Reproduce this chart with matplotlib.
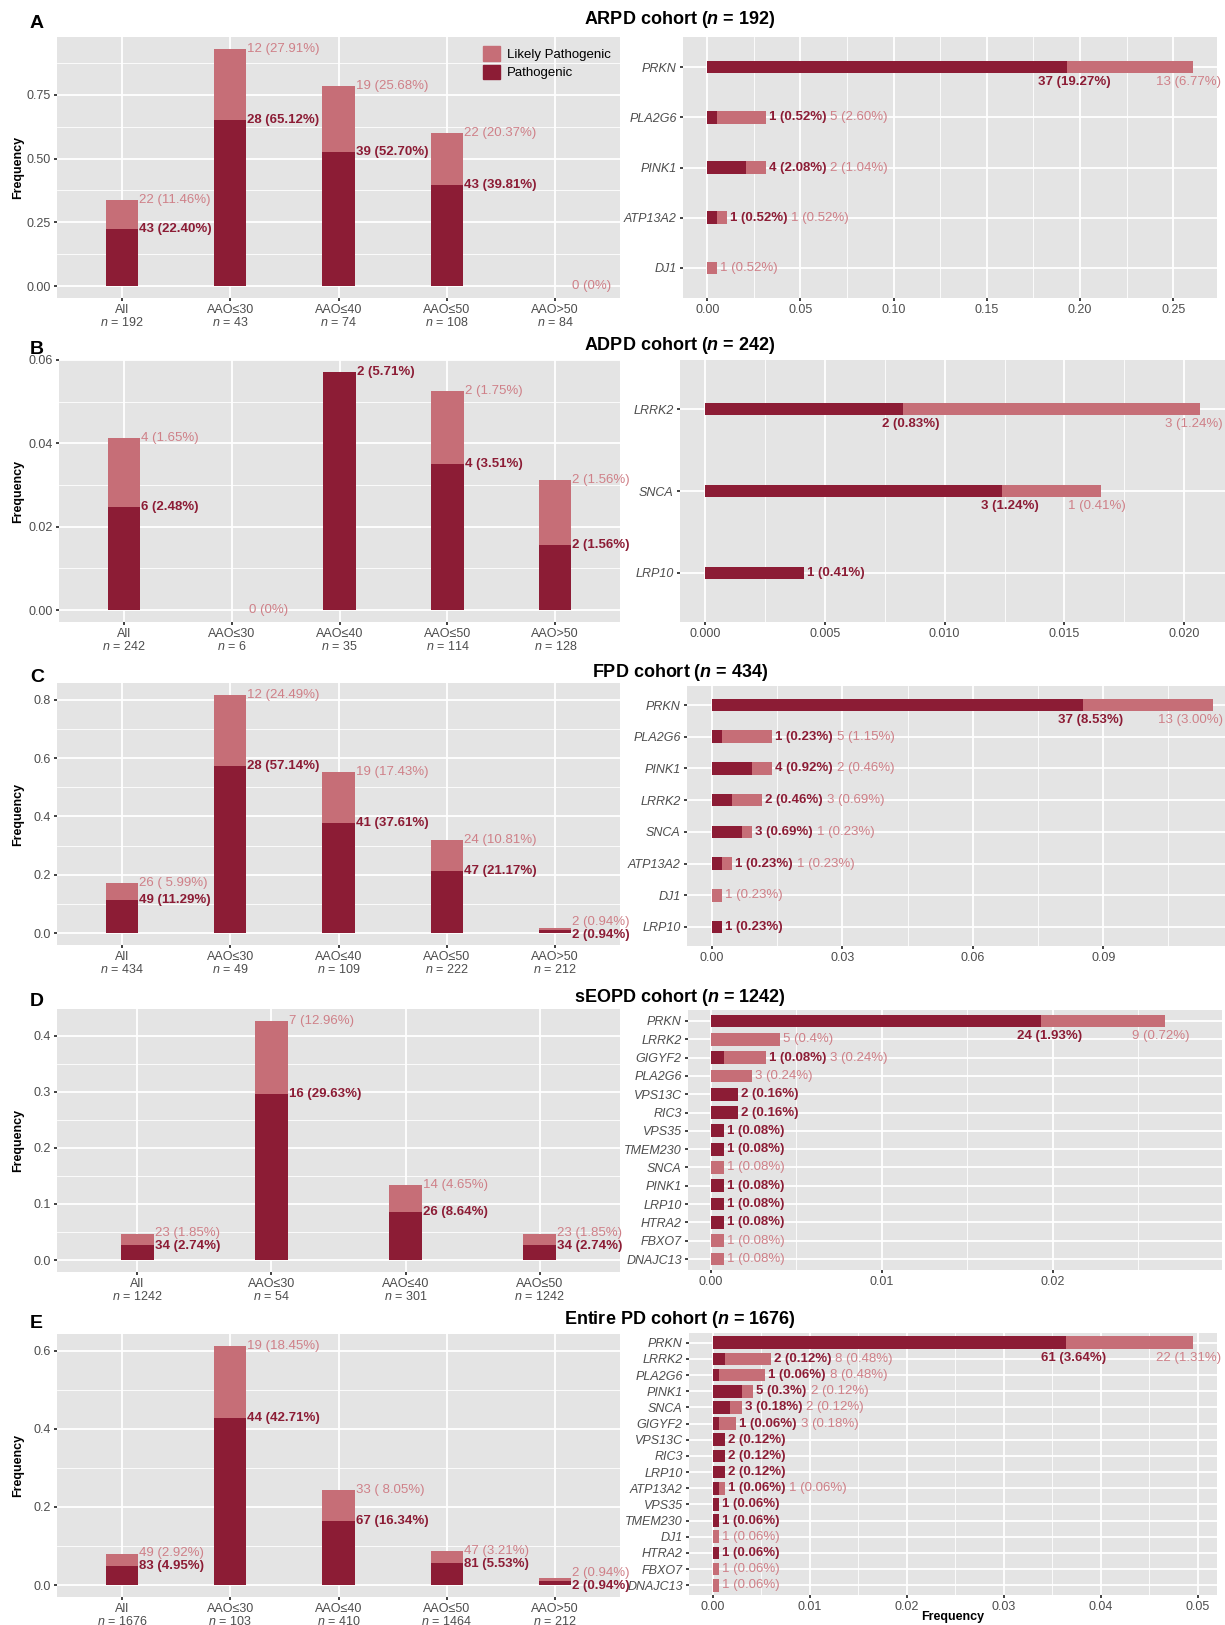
import numpy as np
import matplotlib
matplotlib.use("Agg")
import matplotlib.pyplot as plt
from matplotlib.patches import Patch

plt.rcParams["font.family"] = ["Liberation Sans", "DejaVu Sans"]
plt.rcParams["mathtext.fontset"] = "custom"
plt.rcParams["mathtext.rm"] = "Liberation Sans"
plt.rcParams["mathtext.it"] = "Liberation Sans:italic"
plt.rcParams["mathtext.bf"] = "Liberation Sans:bold"
plt.rcParams["mathtext.bfit"] = "Liberation Sans:italic:bold"

P_COL = "#8C1C35"
LP_COL = "#C66E77"
LP_TXT = "#CF8088"
BG = "#E4E4E4"
TICK_TXT = "#4D4D4D"
W, H = 1225, 1625
LAB_FS = 9.5

# ---------------- data ----------------
AAO5 = ["All", "AAO≤30", "AAO≤40", "AAO≤50", "AAO>50"]
AAO4 = ["All", "AAO≤30", "AAO≤40", "AAO≤50"]

# A: ARPD cohort
arpd_n = [192, 43, 74, 108, 84]
arpd_p = [43, 28, 39, 43, 0]
arpd_lp = [22, 12, 19, 22, 0]
arpd_p_lab = ["43 (22.40%)", "28 (65.12%)", "39 (52.70%)", "43 (39.81%)", ""]
arpd_lp_lab = ["22 (11.46%)", "12 (27.91%)", "19 (25.68%)", "22 (20.37%)", "0 (0%)"]
arpd_genes = ["PRKN", "PLA2G6", "PINK1", "ATP13A2", "DJ1"]
arpd_gene_p = [37, 1, 4, 1, 0]
arpd_gene_lp = [13, 5, 2, 1, 1]
arpd_gene_p_lab = ["37 (19.27%)", "1 (0.52%)", "4 (2.08%)", "1 (0.52%)", ""]
arpd_gene_lp_lab = ["13 (6.77%)", "5 (2.60%)", "2 (1.04%)", "1 (0.52%)", "1 (0.52%)"]

# B: ADPD cohort
adpd_n = [242, 6, 35, 114, 128]
adpd_p = [6, 0, 2, 4, 2]
adpd_lp = [4, 0, 0, 2, 2]
adpd_p_lab = ["6 (2.48%)", "", "2 (5.71%)", "4 (3.51%)", "2 (1.56%)"]
adpd_lp_lab = ["4 (1.65%)", "0 (0%)", "", "2 (1.75%)", "2 (1.56%)"]
adpd_genes = ["LRRK2", "SNCA", "LRP10"]
adpd_gene_p = [2, 3, 1]
adpd_gene_lp = [3, 1, 0]
adpd_gene_p_lab = ["2 (0.83%)", "3 (1.24%)", "1 (0.41%)"]
adpd_gene_lp_lab = ["3 (1.24%)", "1 (0.41%)", ""]

# C: FPD cohort
fpd_n = [434, 49, 109, 222, 212]
fpd_p = [49, 28, 41, 47, 2]
fpd_lp = [26, 12, 19, 24, 2]
fpd_p_lab = ["49 (11.29%)", "28 (57.14%)", "41 (37.61%)", "47 (21.17%)", "2 (0.94%)"]
fpd_lp_lab = ["26 ( 5.99%)", "12 (24.49%)", "19 (17.43%)", "24 (10.81%)", "2 (0.94%)"]
fpd_genes = ["PRKN", "PLA2G6", "PINK1", "LRRK2", "SNCA", "ATP13A2", "DJ1", "LRP10"]
fpd_gene_p = [37, 1, 4, 2, 3, 1, 0, 1]
fpd_gene_lp = [13, 5, 2, 3, 1, 1, 1, 0]
fpd_gene_p_lab = ["37 (8.53%)", "1 (0.23%)", "4 (0.92%)", "2 (0.46%)", "3 (0.69%)",
                  "1 (0.23%)", "", "1 (0.23%)"]
fpd_gene_lp_lab = ["13 (3.00%)", "5 (1.15%)", "2 (0.46%)", "3 (0.69%)", "1 (0.23%)",
                   "1 (0.23%)", "1 (0.23%)", ""]

# D: sEOPD cohort
seopd_n = [1242, 54, 301, 1242]
seopd_p = [34, 16, 26, 34]
seopd_lp = [23, 7, 14, 23]
seopd_p_lab = ["34 (2.74%)", "16 (29.63%)", "26 (8.64%)", "34 (2.74%)"]
seopd_lp_lab = ["23 (1.85%)", "7 (12.96%)", "14 (4.65%)", "23 (1.85%)"]
seopd_genes = ["PRKN", "LRRK2", "GIGYF2", "PLA2G6", "VPS13C", "RIC3", "VPS35", "TMEM230",
               "SNCA", "PINK1", "LRP10", "HTRA2", "FBXO7", "DNAJC13"]
seopd_gene_p = [24, 0, 1, 0, 2, 2, 1, 1, 0, 1, 1, 1, 0, 0]
seopd_gene_lp = [9, 5, 3, 3, 0, 0, 0, 0, 1, 0, 0, 0, 1, 1]
seopd_gene_p_lab = ["24 (1.93%)", "", "1 (0.08%)", "", "2 (0.16%)", "2 (0.16%)", "1 (0.08%)",
                    "1 (0.08%)", "", "1 (0.08%)", "1 (0.08%)", "1 (0.08%)", "", ""]
seopd_gene_lp_lab = ["9 (0.72%)", "5 (0.4%)", "3 (0.24%)", "3 (0.24%)", "", "", "", "",
                     "1 (0.08%)", "", "", "", "1 (0.08%)", "1 (0.08%)"]

# E: entire PD cohort
all_n = [1676, 103, 410, 1464, 212]
all_p = [83, 44, 67, 81, 2]
all_lp = [49, 19, 33, 47, 2]
all_p_lab = ["83 (4.95%)", "44 (42.71%)", "67 (16.34%)", "81 (5.53%)", "2 (0.94%)"]
all_lp_lab = ["49 (2.92%)", "19 (18.45%)", "33 ( 8.05%)", "47 (3.21%)", "2 (0.94%)"]
all_genes = ["PRKN", "LRRK2", "PLA2G6", "PINK1", "SNCA", "GIGYF2", "VPS13C", "RIC3", "LRP10",
             "ATP13A2", "VPS35", "TMEM230", "DJ1", "HTRA2", "FBXO7", "DNAJC13"]
all_gene_p = [61, 2, 1, 5, 3, 1, 2, 2, 2, 1, 1, 1, 0, 1, 0, 0]
all_gene_lp = [22, 8, 8, 2, 2, 3, 0, 0, 0, 1, 0, 0, 1, 0, 1, 1]
all_gene_p_lab = ["61 (3.64%)", "2 (0.12%)", "1 (0.06%)", "5 (0.3%)", "3 (0.18%)", "1 (0.06%)",
                  "2 (0.12%)", "2 (0.12%)", "2 (0.12%)", "1 (0.06%)", "1 (0.06%)", "1 (0.06%)",
                  "", "1 (0.06%)", "", ""]
all_gene_lp_lab = ["22 (1.31%)", "8 (0.48%)", "8 (0.48%)", "2 (0.12%)", "2 (0.12%)", "3 (0.18%)",
                   "", "", "", "1 (0.06%)", "", "", "1 (0.06%)", "", "1 (0.06%)", "1 (0.06%)"]


def px_axes(fig, l, t, r, b):
    return fig.add_axes([l / W, 1 - b / H, (r - l) / W, (b - t) / H])


def style(ax):
    ax.set_facecolor(BG)
    for s in ax.spines.values():
        s.set_visible(False)
    ax.tick_params(which="major", length=2.5, width=1.3, color="#333333",
                   labelcolor=TICK_TXT, labelsize=9, pad=2)
    ax.tick_params(which="minor", length=0)
    ax.set_axisbelow(True)


def draw_groups(ax, groups, group_n, p, lp, p_lab, lp_lab, ystep, fmt, width=0.3):
    style(ax)
    x = np.arange(len(groups))
    fp = np.array(p) / np.array(group_n)
    flp = np.array(lp) / np.array(group_n)
    ax.bar(x, fp, width, color=P_COL, zorder=2, edgecolor="none")
    ax.bar(x, flp, width, bottom=fp, color=LP_COL, zorder=2, edgecolor="none")
    top = (fp + flp).max()
    ax.set_ylim(-0.05 * top, 1.05 * top)
    ax.set_xlim(-0.6, len(groups) - 0.4)
    yt = np.arange(0, 1.05 * top + 1e-9, ystep)
    ax.set_yticks(yt)
    ax.set_yticklabels([fmt % v for v in yt])
    ax.set_yticks(np.arange(ystep / 2, 1.05 * top, ystep), minor=True)
    ax.set_xticks(x)
    ax.set_xticklabels([f"{g}\n$\\it{{n}}$ = {n}" for g, n in zip(groups, group_n)],
                       linespacing=1.0)
    ax.tick_params(axis="x", pad=1.5)
    ax.grid(True, which="major", color="white", lw=1.3)
    ax.grid(True, which="minor", axis="y", color="white", lw=0.6)
    ax.grid(False, which="minor", axis="x")
    ax_h = ax.get_position().height * H
    ppu = ax_h / (1.1 * top)
    gap = 13
    for i in range(len(x)):
        yp, yl = fp[i], fp[i] + flp[i]
        if p_lab[i] and lp_lab[i] and (yl - yp) * ppu < gap:
            mid = (yp + yl) / 2
            yp, yl = mid - gap / 2 / ppu, mid + gap / 2 / ppu
        xr = x[i] + width / 2
        if p_lab[i]:
            ax.annotate(p_lab[i], (xr, yp), xytext=(1, 0), textcoords="offset pixels",
                        va="center", ha="left", fontsize=LAB_FS, fontweight="bold", color=P_COL)
        if lp_lab[i]:
            ax.annotate(lp_lab[i], (xr, yl), xytext=(1, 0), textcoords="offset pixels",
                        va="center", ha="left", fontsize=LAB_FS, color=LP_TXT)


def draw_genes(ax, genes, n, p, lp, p_lab, lp_lab, xstep, fmt, xmax=None):
    style(ax)
    y = np.arange(1, len(genes) + 1)
    fp = np.array(p) / n
    flp = np.array(lp) / n
    tot = fp + flp
    hi = tot.max()
    ax.set_ylim(len(genes) + 0.6, 0.4)
    ax.set_xlim(-0.05 * hi, xmax if xmax else 1.05 * hi)
    x_hi = ax.get_xlim()[1]
    ax_h = ax.get_position().height * H
    bh = 12.7 / (ax_h / (len(genes) + 0.2))
    ax.barh(y, fp, bh, color=P_COL, zorder=2)
    ax.barh(y, flp, bh, left=fp, color=LP_COL, zorder=2)
    xt = np.arange(0, x_hi + 1e-9, xstep)
    ax.set_xticks(xt)
    ax.set_xticklabels([fmt % v for v in xt])
    ax.set_xticks(np.arange(xstep / 2, x_hi, xstep), minor=True)
    ax.set_yticks(y)
    ax.set_yticklabels(genes, style="italic")
    ax.grid(True, which="major", color="white", lw=1.3)
    ax.grid(True, which="minor", axis="x", color="white", lw=0.6)
    renderer = ax.figure.canvas.get_renderer()
    for i in range(len(genes)):
        if tot[i] > 0.5 * hi:
            if p_lab[i]:
                ax.annotate(p_lab[i], (fp[i], y[i]), xytext=(8, -15), textcoords="offset pixels",
                            va="center", ha="center", fontsize=LAB_FS, fontweight="bold",
                            color=P_COL)
            if lp_lab[i]:
                t = ax.annotate(lp_lab[i], (tot[i], y[i]), xytext=(-4, -15),
                                textcoords="offset pixels", va="center", ha="center",
                                fontsize=LAB_FS, color=LP_TXT)
                over = t.get_window_extent(renderer).x1 - (W - 2)
                if over > 0:
                    t.set_position((-4 - over, -15))
        else:
            first = None
            if p_lab[i]:
                first = ax.annotate(p_lab[i], (tot[i], y[i]), xytext=(3, 0),
                                    textcoords="offset pixels", va="center", ha="left",
                                    fontsize=LAB_FS, fontweight="bold", color=P_COL)
            if lp_lab[i]:
                if first is None:
                    ax.annotate(lp_lab[i], (tot[i], y[i]), xytext=(3, 0),
                                textcoords="offset pixels", va="center", ha="left",
                                fontsize=LAB_FS, color=LP_TXT)
                else:
                    ax.annotate(lp_lab[i], (1, 0.5), xycoords=first, xytext=(4, 0),
                                textcoords="offset pixels", va="center", ha="left",
                                fontsize=LAB_FS, color=LP_TXT)


fig = plt.figure(figsize=(12.25, 16.25), dpi=100)

rows = [
    ("A", "ARPD cohort", 192, 20, (57, 37, 620, 298), (683, 37, 1217, 298),
     (AAO5, arpd_n, arpd_p, arpd_lp, arpd_p_lab, arpd_lp_lab, 0.25, "%.2f"),
     (arpd_genes, 192, arpd_gene_p, arpd_gene_lp, arpd_gene_p_lab, arpd_gene_lp_lab, 0.05, "%.2f", None)),
    ("B", "ADPD cohort", 242, 345, (59, 360, 620, 622), (680, 360, 1225, 622),
     (AAO5, adpd_n, adpd_p, adpd_lp, adpd_p_lab, adpd_lp_lab, 0.02, "%.2f"),
     (adpd_genes, 242, adpd_gene_p, adpd_gene_lp, adpd_gene_p_lab, adpd_gene_lp_lab, 0.005, "%.3f", None)),
    ("C", "FPD cohort", 434, 673, (57, 683, 620, 945), (687, 686, 1225, 946),
     (AAO5, fpd_n, fpd_p, fpd_lp, fpd_p_lab, fpd_lp_lab, 0.2, "%.1f"),
     (fpd_genes, 434, fpd_gene_p, fpd_gene_lp, fpd_gene_p_lab, fpd_gene_lp_lab, 0.03, "%.2f", 0.118)),
    ("D", "sEOPD cohort", 1242, 997, (57, 1009, 620, 1272), (688, 1010, 1222, 1270),
     (AAO4, seopd_n, seopd_p, seopd_lp, seopd_p_lab, seopd_lp_lab, 0.1, "%.1f"),
     (seopd_genes, 1242, seopd_gene_p, seopd_gene_lp, seopd_gene_p_lab, seopd_gene_lp_lab, 0.01, "%.2f", 0.0299)),
    ("E", "Entire PD cohort", 1676, 1320, (57, 1334, 620, 1597), (689, 1333, 1217, 1595),
     (AAO5, all_n, all_p, all_lp, all_p_lab, all_lp_lab, 0.2, "%.1f"),
     (all_genes, 1676, all_gene_p, all_gene_lp, all_gene_p_lab, all_gene_lp_lab, 0.01, "%.2f", None)),
]

for letter, name, n_total, ty, lbox, rbox, ldata, rdata in rows:
    axl = px_axes(fig, *lbox)
    groups = ldata[0]
    draw_groups(axl, *ldata, width=0.3 if len(groups) == 5 else 0.25)
    axr = px_axes(fig, *rbox)
    draw_genes(axr, *rdata)
    fig.text(680 / W, 1 - ty / H, f"{name} ($\\mathbfit{{n}}$ = {n_total})", ha="center",
             va="center", fontsize=13, fontweight="bold")
    fig.text(30 / W, 1 - (ty + 4) / H, letter, ha="left", va="center", fontsize=14,
             fontweight="bold")
    fig.text(18 / W, 1 - (lbox[1] + lbox[3]) / 2 / H, "Frequency", rotation=90,
             ha="center", va="center", fontsize=9, fontweight="bold")
    if letter == "A":
        axl.legend(handles=[Patch(color=LP_COL), Patch(color=P_COL)],
                   labels=["Likely Pathogenic", "Pathogenic"], loc="upper right",
                   frameon=False, fontsize=9.5, handlelength=1.3, handleheight=1.3,
                   labelspacing=0.3, borderaxespad=0.3, handletextpad=0.5)
    if letter == "E":
        fig.text((rbox[0] + rbox[2]) / 2 / W, 1 - 1617 / H, "Frequency", ha="center",
                 va="center", fontsize=9, fontweight="bold")

fig.savefig("out.png", dpi=100)
